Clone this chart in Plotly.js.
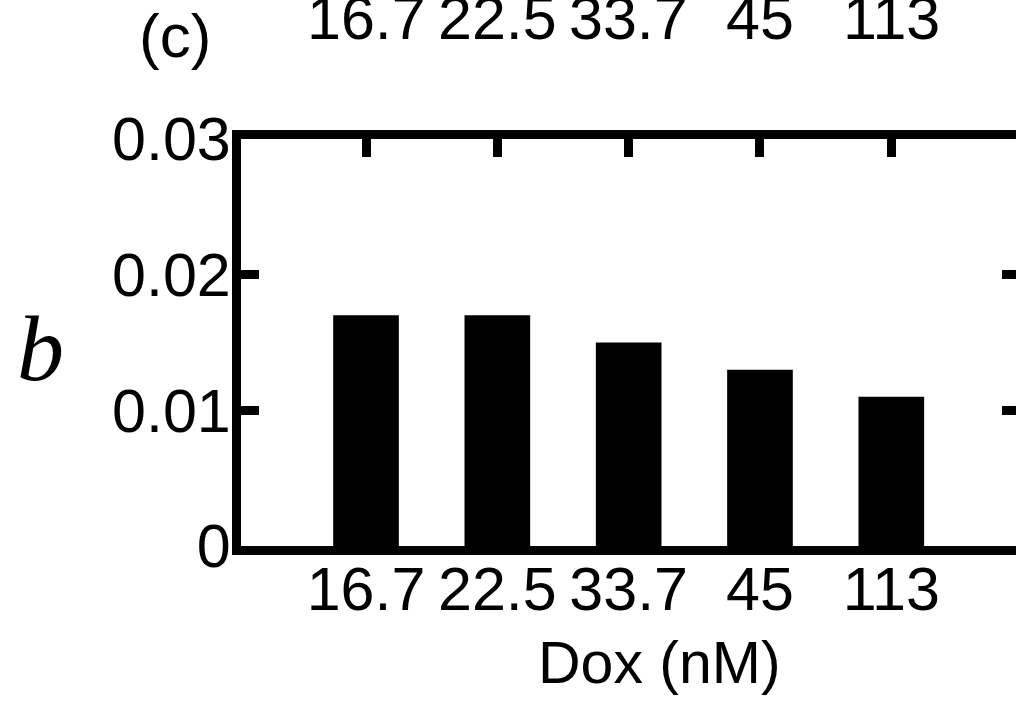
<!DOCTYPE html>
<html>
<head>
<meta charset="utf-8">
<script src="https://cdn.plot.ly/plotly-3.0.1.min.js"></script>
<style>
html,body{margin:0;padding:0;overflow:hidden;background:#fff;}
#chart{width:1024px;height:704px;}
</style>
</head>
<body>
<div id="chart"></div>
<script>
// Data
const categories = ['16.7', '22.5', '33.7', '45', '113'];
const bValues = [0.017, 0.017, 0.015, 0.013, 0.011];
const yTickVals = [0, 0.01, 0.02, 0.03];
const yTickText = ['0', '0.01', '0.02', '0.03'];
const xTitle = 'Dox (nM)';
const yTitle = 'b';
const panelLabel = '(c)';

const sans = 'Liberation Sans, Arial, sans-serif';
const serif = 'Liberation Serif, Times New Roman, serif';

const trace = {
  type: 'bar',
  x: categories,
  y: bValues,
  width: 0.5,
  marker: {color: '#000', line: {width: 0}},
  hoverinfo: 'none'
};

const annotations = [];
// remnants of the previous panel's tick labels at the top (cut off, as in the source)
categories.forEach((c, i) => {
  annotations.push({
    x: i, xref: 'x', y: 1.2985, yref: 'paper',
    text: c, showarrow: false, xanchor: 'center', yanchor: 'middle',
    font: {family: sans, size: 61, color: '#000'}
  });
});
annotations.push({
  x: -0.0845, xref: 'paper', y: 1.2555, yref: 'paper',
  text: panelLabel, showarrow: false, xanchor: 'center', yanchor: 'middle',
  font: {family: sans, size: 62, color: '#000'}
});
annotations.push({
  x: 0.5378, xref: 'paper', y: -0.2875, yref: 'paper',
  text: xTitle, showarrow: false, xanchor: 'center', yanchor: 'middle',
  font: {family: sans, size: 59, color: '#000'}
});
annotations.push({
  x: -0.2575, xref: 'paper', y: 0.487, yref: 'paper',
  text: '<i>' + yTitle + '</i>', showarrow: false, xanchor: 'center', yanchor: 'middle',
  font: {family: serif, size: 94, color: '#000'}
});

const layout = {
  width: 1024,
  height: 704,
  margin: {l: 241, r: 4, t: 139, b: 158, pad: 0},
  paper_bgcolor: '#fff',
  plot_bgcolor: '#fff',
  showlegend: false,
  xaxis: {
    type: 'category',
    range: [-0.952, 4.98],
    showline: true, linewidth: 9, linecolor: '#000',
    mirror: 'ticks',
    ticks: 'inside', ticklen: 18, tickwidth: 9, tickcolor: '#000',
    ticklabelstandoff: -18,
    showgrid: false, zeroline: false,
    tickfont: {family: sans, size: 61, color: '#000'},
    fixedrange: true
  },
  yaxis: {
    range: [0, 0.03],
    tickvals: yTickVals,
    ticktext: yTickText,
    showline: true, linewidth: 9, linecolor: '#000',
    mirror: 'ticks',
    ticks: 'inside', ticklen: 18, tickwidth: 9, tickcolor: '#000',
    ticklabelstandoff: -11,
    showgrid: false, zeroline: false,
    tickfont: {family: sans, size: 61, color: '#000'},
    fixedrange: true
  },
  annotations: annotations
};

Plotly.newPlot('chart', [trace], layout, {displayModeBar: false, staticPlot: true});
</script>
</body>
</html>
